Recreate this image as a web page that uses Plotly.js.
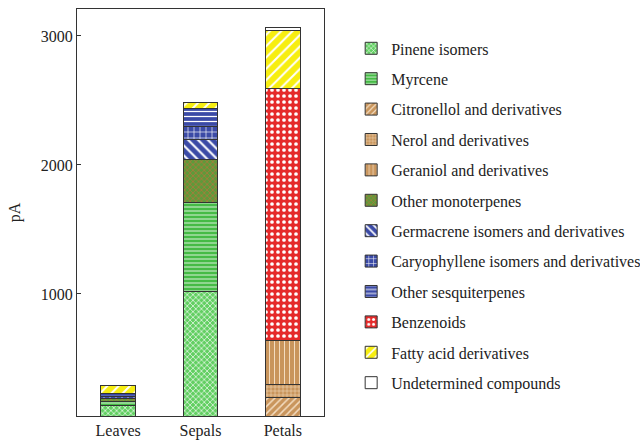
<!DOCTYPE html>
<html><head><meta charset="utf-8">
<script src="https://cdn.plot.ly/plotly-3.0.1.min.js"></script>
<style>html,body{margin:0;padding:0;background:#fff}#chart{width:640px;height:441px}</style>
</head><body><div id="chart"></div>
<script>
const categories = ['Leaves', 'Sepals', 'Petals'];
const seriesNames = ['Pinene isomers', 'Myrcene', 'Citronellol and derivatives', 'Nerol and derivatives',
  'Geraniol and derivatives', 'Other monoterpenes', 'Germacrene isomers and derivatives',
  'Caryophyllene isomers and derivatives', 'Other sesquiterpenes', 'Benzenoids',
  'Fatty acid derivatives', 'Undetermined compounds'];
const pinene = [134, 1018, null];
const myrcene = [34, 690, null];
const citronellol = [null, null, 199];
const nerol = [null, null, 101];
const geraniol = [null, null, 338];
const otherMono = [18, 331, null];
const germacrene = [null, 160, null];
const caryophyllene = [22, 103, null];
const otherSesqui = [22, 134, null];
const benzenoids = [null, null, 1951];
const fattyAcid = [59, 47, 452];
const undetermined = [null, null, 26];
const yTickVals = [1000, 2000, 3000];

const seriesValues = [pinene, myrcene, citronellol, nerol, geraniol, otherMono, germacrene,
  caryophyllene, otherSesqui, benzenoids, fattyAcid, undetermined];
const styles = [
  {bg: '#62cf62', fg: '#ffffff', shape: 'x', size: 4, sol: 0.3},
  {bg: '#45bb45', fg: '#ffffff', shape: '-', size: 4, sol: 0.2},
  {bg: '#c9955c', fg: '#f3dcc0', shape: '/', size: 5, sol: 0.3},
  {bg: '#c9955c', fg: '#f3dcc0', shape: '+', size: 4, sol: 0.25},
  {bg: '#c9955c', fg: '#f3dcc0', shape: '|', size: 5, sol: 0.2},
  {bg: '#5e9a3a', fg: '#c0703a', shape: 'x', size: 4, sol: 0.3},
  {bg: '#3b4aa6', fg: '#ffffff', shape: '\\', size: 7, sol: 0.3},
  {bg: '#3b4aa6', fg: '#ffffff', shape: '+', size: 6, sol: 0.2},
  {bg: '#3b4aa6', fg: '#ffffff', shape: '-', size: 5, sol: 0.25},
  {bg: '#e52a2a', fg: '#ffffff', shape: '.', size: 6, sol: 0.3},
  {bg: '#f7ee10', fg: '#ffffff', shape: '/', size: 8, sol: 0.25},
  {bg: '#ffffff', fg: '#ffffff', shape: '', size: 6, sol: 0.2}
];

const traces = seriesNames.map((name, i) => ({
  type: 'bar', name: name, x: categories, y: seriesValues[i],
  legendgroup: 'g' + i,
  marker: {
    color: styles[i].bg,
    line: {color: '#333333', width: 1},
    pattern: {shape: styles[i].shape, bgcolor: styles[i].bg, fgcolor: styles[i].fg,
      fgopacity: 1, size: styles[i].size, solidity: styles[i].sol, fillmode: 'overlay'}
  },
  hoverinfo: 'skip'
}));

const font = {family: 'Liberation Serif, Times New Roman, serif', size: 16, color: '#222'};
const layout = {
  width: 640, height: 441,
  margin: {l: 77, r: 316, t: 9, b: 25, autoexpand: false},
  paper_bgcolor: '#fff', plot_bgcolor: '#fff',
  font: font,
  barmode: 'stack', bargap: 0.58,
  showlegend: true,
  legend: {x: 1.11, xanchor: 'left', y: 0.945, yanchor: 'top', traceorder: 'grouped',
    tracegroupgap: 6.6, font: {family: font.family, size: 16, color: '#222'}, bgcolor: 'rgba(0,0,0,0)'},
  xaxis: {showline: true, mirror: true, linecolor: '#333', linewidth: 1, ticks: '',
    tickfont: font, showgrid: false, zeroline: false},
  yaxis: {range: [54, 3209], showline: true, mirror: true, linecolor: '#333', linewidth: 1,
    ticks: 'inside', ticklen: 4, tickcolor: '#333', tickvals: yTickVals, tickfont: font,
    showgrid: false, zeroline: false,
    title: {text: 'pA', font: font, standoff: 16}}
};
Plotly.newPlot('chart', traces, layout, {displayModeBar: false, staticPlot: true});
</script></body></html>
